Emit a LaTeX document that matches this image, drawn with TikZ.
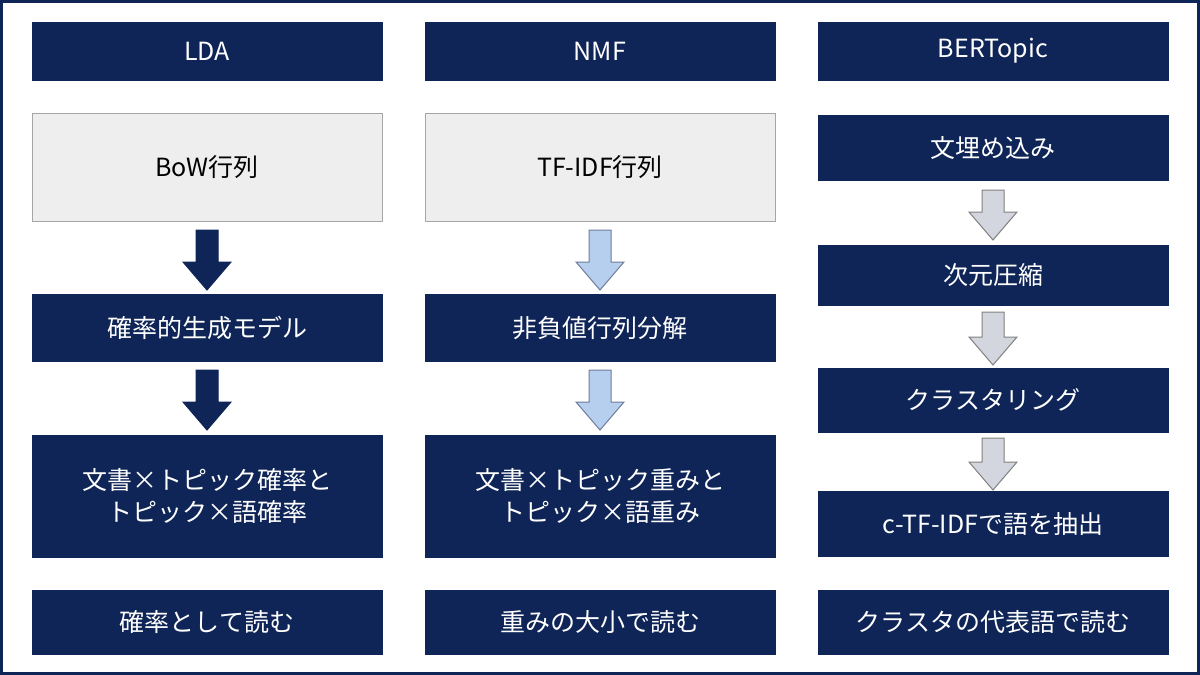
\documentclass[tikz,border=0pt]{standalone}
\usepackage{fontspec}
\setmainfont{Noto Sans CJK JP}
\begin{document}
\begin{tikzpicture}[x=1pt,y=-1pt,
  nb/.style={fill=navy,draw=navy,text=white,minimum width=350pt,inner sep=0pt,font=\fontsize{25}{32}\selectfont,align=center},
  gb/.style={fill=gray!13,draw=gray!70,text=black,line width=1pt,minimum width=350pt,minimum height=108pt,font=\fontsize{25}{32}\selectfont}]
\definecolor{navy}{HTML}{0F2557}
\definecolor{lblue}{HTML}{B7CFEE}
\definecolor{lgray}{HTML}{D3D6DE}
\fill[white] (0,0) rectangle (1200,675);
\draw[navy,line width=3pt] (1.5,1.5) rectangle (1198.5,673.5);
\newcommand{\blk}[5]{% x, ytop, ybot, fill, draw
  \filldraw[fill=#4,draw=#5,line width=1pt] (#1-11,#2) -- (#1+11,#2) -- (#1+11,#3-28) -- (#1+24,#3-28) -- (#1,#3) -- (#1-24,#3-28) -- (#1-11,#3-28) -- cycle;}
% headers
\node[nb,minimum height=58pt] (h1) at (207,51) {LDA};
\node[nb,minimum height=58pt] (h2) at (600,51) {NMF};
\node[nb,minimum height=58pt] (h3) at (993,51) {BERTopic};
% LDA
\node[gb] (a1) at (207,167) {BoW行列};
\node[nb,minimum height=67pt] (a2) at (207,328) {確率的生成モデル};
\node[nb,minimum height=122pt] (a3) at (207,496) {文書×トピック確率と\\トピック×語確率};
\node[nb,minimum height=64pt] (a4) at (207,622) {確率として読む};
\blk{207}{230}{290}{navy}{navy}
\blk{207}{370}{430}{navy}{navy}
% NMF
\node[gb] (b1) at (600,167) {TF-IDF行列};
\node[nb,minimum height=67pt] (b2) at (600,328) {非負値行列分解};
\node[nb,minimum height=122pt] (b3) at (600,496) {文書×トピック重みと\\トピック×語重み};
\node[nb,minimum height=64pt] (b4) at (600,622) {重みの大小で読む};
\blk{600}{230}{290}{lblue}{navy!60}
\blk{600}{370}{430}{lblue}{navy!60}
% BERTopic
\node[nb,minimum height=65pt] (c1) at (993,148) {文埋め込み};
\node[nb,minimum height=60pt] (c2) at (993,275) {次元圧縮};
\node[nb,minimum height=64pt] (c3) at (993,400) {クラスタリング};
\node[nb,minimum height=65pt] (c4) at (993,524) {c-TF-IDFで語を抽出};
\node[nb,minimum height=64pt] (c5) at (993,622) {クラスタの代表語で読む};
\blk{993}{190}{240}{lgray}{gray}
\blk{993}{312}{365}{lgray}{gray}
\blk{993}{438}{490}{lgray}{gray}
\end{tikzpicture}
\end{document}
